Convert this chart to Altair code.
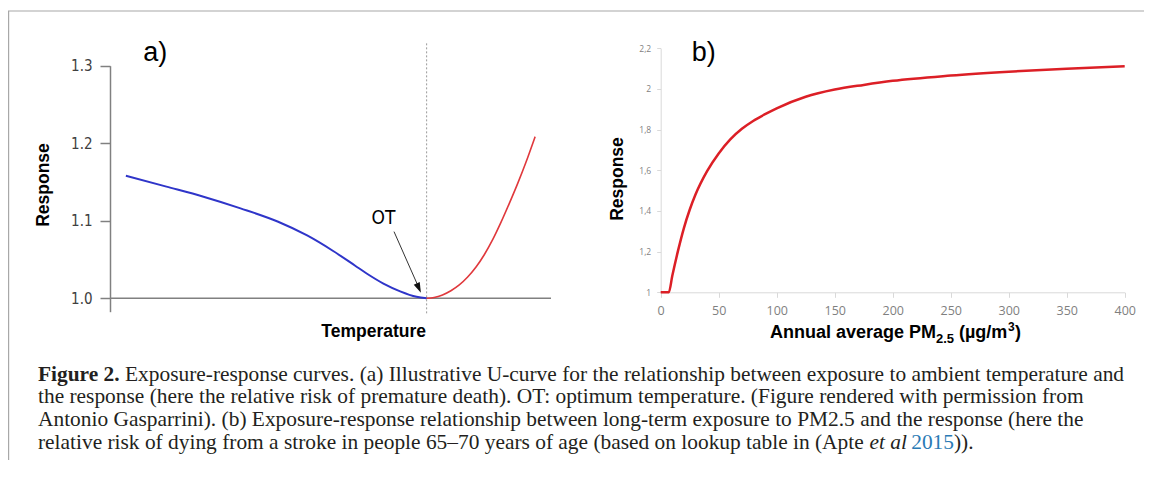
import altair as alt
import pandas as pd

# ---------------- data ----------------
# Panel a: illustrative U-curve (temperature in arbitrary percentile units)
temp_cold = [3.6, 12.8, 21.2, 29.6, 38.0, 44.7, 50.6, 55.6, 58.2, 62.0, 65.8, 69.5, 71.8]
resp_cold = [1.158, 1.144, 1.131, 1.116, 1.099, 1.081, 1.061, 1.042, 1.032, 1.019, 1.009, 1.002, 1.000]
temp_heat = [71.8, 73.5, 75.4, 77.3, 79.2, 81.1, 83.0, 84.9, 86.8, 88.7, 90.6, 92.5, 94.3, 96.4]
resp_heat = [1.000, 1.001, 1.0043, 1.0097, 1.0172, 1.0274, 1.0403, 1.0565, 1.0759, 1.0985,
             1.1231, 1.1489, 1.1752, 1.2085]
ot_temp = 71.8
a_ticks = [1.0, 1.1, 1.2, 1.3]

# Panel b: PM2.5 exposure-response (stroke, age 65-70)
pm_vals = [0, 7, 10, 15, 20, 25, 30, 40, 50, 60, 70, 80, 90, 100, 125, 150, 175, 200, 250, 300, 350, 400]
rr_vals = [1.0, 1.0, 1.081, 1.206, 1.316, 1.406, 1.481, 1.596, 1.683, 1.752, 1.804, 1.844, 1.876, 1.905,
           1.962, 1.997, 2.02, 2.04, 2.066, 2.085, 2.10, 2.112]
b_xticks = [0, 50, 100, 150, 200, 250, 300, 350, 400]
b_yticks = [1.0, 1.2, 1.4, 1.6, 1.8, 2.0, 2.2]

caption_lines = [
    "the response (here the relative risk of premature death). OT: optimum temperature. (Figure rendered with permission from",
    "Antonio Gasparrini). (b) Exposure-response relationship between long-term exposure to PM2.5 and the response (here the",
]

W, H = 1136, 452
one = pd.DataFrame({"k": [0]})


def P(v):  # page coordinate -> plot coordinate
    return v - 8


# ---------------- panel a ----------------
narrow = "Liberation Sans Narrow, DejaVu Sans Condensed, sans-serif"
sx_a = alt.Scale(domain=[0, 100], range=[P(110), P(551)], nice=False, zero=False)
sy_a = alt.Scale(domain=[0.9827, 1.3], range=[P(311.7), P(65.7)], nice=False, zero=False)
axis_a = alt.Axis(orient="left", offset=-P(110), values=a_ticks, format=".1f", title=None, grid=False,
                  domainColor="#808080", domainWidth=1.5, tickColor="#808080", tickWidth=1.5, tickSize=10,
                  labelFont=narrow, labelFontSize=15,
                  labelColor="#404040", labelPadding=8, labelFlush=False, labelOverlap=False)

xa = alt.X("t:Q", scale=sx_a, axis=None)
ya = alt.Y("r:Q", scale=sy_a, axis=axis_a)

cold = alt.Chart(pd.DataFrame({"t": temp_cold, "r": resp_cold})).mark_line(
    color="#2f35c9", strokeWidth=2, interpolate="monotone").encode(x=xa, y=ya)
heat = alt.Chart(pd.DataFrame({"t": temp_heat, "r": resp_heat})).mark_line(
    color="#e0383c", strokeWidth=1.6, interpolate="monotone").encode(x=xa, y=ya)
base = alt.Chart(pd.DataFrame({"t": [0], "t2": [100], "r": [1.0]})).mark_rule(
    color="#808080", strokeWidth=1.5).encode(x=xa, x2="t2:Q", y=ya)
otline = alt.Chart(pd.DataFrame({"t": [ot_temp], "r": [0.9806], "r2": [1.331]})).mark_rule(
    color="#9a9a9a", strokeWidth=1, strokeDash=[2, 2]).encode(x=xa, y=ya, y2="r2:Q")
shaft = alt.Chart(pd.DataFrame({"t": [64.4], "r": [1.086], "t2": [70.0], "r2": [1.014]})).mark_rule(
    color="#333333", strokeWidth=1).encode(x=xa, y=ya, x2="t2:Q", y2="r2:Q")
head = alt.Chart(pd.DataFrame({"t": [70.5], "r": [1.0072]})).mark_point(
    shape="M0,0L-0.32,1L0.32,1Z", filled=True, size=420, angle=156, color="#111111",
    opacity=1, strokeWidth=0).encode(x=xa, y=ya)

panel_a = alt.layer(base, otline, cold, heat, shaft, head)

# ---------------- panel b ----------------
sx_b = alt.Scale(domain=[0, 400], range=[P(660.7), P(1124.7)], nice=False, zero=False)
sy_b = alt.Scale(domain=[1.0, 2.2], range=[P(292.3), P(48.3)], nice=False, zero=False)
xb = alt.X("pm:Q", scale=sx_b,
           axis=alt.Axis(orient="bottom", offset=P(292.3) - H, values=b_xticks, title=None, grid=False,
                         domainColor="#d9d9d9", tickColor="#d9d9d9", tickSize=5,
                         labelFont="Open Sans", labelFontSize=12.5, labelColor="#7f7f7f",
                         labelPadding=7, labelFlush=False, labelOverlap=False))
yb = alt.Y("rr:Q", scale=sy_b,
           axis=alt.Axis(orient="left", offset=-P(660.7), values=b_yticks, title=None, grid=False,
                         labelExpr="replace(format(datum.value, '~g'), '.', ',')",
                         domainColor="#d9d9d9", tickColor="#d9d9d9", tickSize=4,
                         labelFont="Open Sans", labelFontSize=8.5, labelColor="#7f7f7f",
                         labelPadding=6, labelFlush=False, labelOverlap=False))
curve_b = alt.Chart(pd.DataFrame({"pm": pm_vals, "rr": rr_vals})).mark_line(
    color="#dc1f26", strokeWidth=2.5, interpolate="monotone").encode(x=xb, y=yb)
panel_b = alt.layer(curve_b)


# ---------------- texts and frame ----------------
def txt(text, x, y, size, font="Liberation Sans", weight="normal", style="normal", color="#000000",
        align="left", baseline="alphabetic", angle=0):
    return alt.Chart(one).mark_text(
        text=text, font=font, fontSize=size, fontWeight=weight, fontStyle=style, color=color,
        align=align, baseline=baseline, angle=angle).encode(x=alt.value(P(x)), y=alt.value(P(y)))


serif = "Liberation Serif"
cap_col = "#231f20"
CS = 21.4

texts = [
    txt("a)", 143.3, 61, 27),
    txt("b)", 691.7, 61, 27),
    txt("Response", 44.4, 185, 17.5, weight="bold", align="center", baseline="middle", angle=270),
    txt("Temperature", 373.7, 337.3, 17.5, weight="bold", align="center"),
    txt("OT", 383.5, 224, 19, font=narrow, align="center"),
    txt("Response", 618.3, 179, 17.5, weight="bold", align="center", baseline="middle", angle=270),
    txt("Annual average PM", 770, 337.7, 18, weight="bold"),
    txt("2.5", 936, 342.5, 13, weight="bold"),
    txt("(µg/m", 959, 337.7, 18, weight="bold"),
    txt("3", 1008, 330.5, 12, weight="bold"),
    txt(")", 1015, 337.7, 18, weight="bold"),
    # caption
    txt("Figure 2.", 38, 380.7, CS, font=serif, weight="bold", color=cap_col),
    txt("Exposure-response curves. (a) Illustrative U-curve for the relationship between exposure to ambient temperature and",
        125, 380.7, CS, font=serif, color=cap_col),
    txt(caption_lines[0], 38, 403.4, CS, font=serif, color=cap_col),
    txt(caption_lines[1], 38, 426.0, CS, font=serif, color=cap_col),
    txt("relative risk of dying from a stroke in people 65\u201370 years of age (based on lookup table in (Apte",
        38, 448.7, CS, font=serif, color=cap_col),
    txt("et al", 869.4, 448.7, CS, font=serif, style="italic", color=cap_col),
    txt("2015", 911.2, 448.7, CS, font=serif, color="#2a7ab5"),
    txt(")).", 954, 448.7, CS, font=serif, color=cap_col),
]

frame_top = alt.Chart(one).mark_rule(color="#a8a8a8", strokeWidth=1.2).encode(
    x=alt.value(0), x2=alt.value(W), y=alt.value(3))
frame_left = alt.Chart(one).mark_rule(color="#a8a8a8", strokeWidth=1.2).encode(
    x=alt.value(0.6), y=alt.value(3), y2=alt.value(H))

chart = alt.layer(panel_a, panel_b, frame_top, frame_left, *texts).resolve_scale(
    x="independent", y="independent"
).properties(
    width=W, height=H, padding=0, autosize=alt.AutoSizeParams(type="none"),
    background="white",
).configure_view(stroke=None)

chart.save("out.html", embed_options={"renderer": "svg", "actions": False})
